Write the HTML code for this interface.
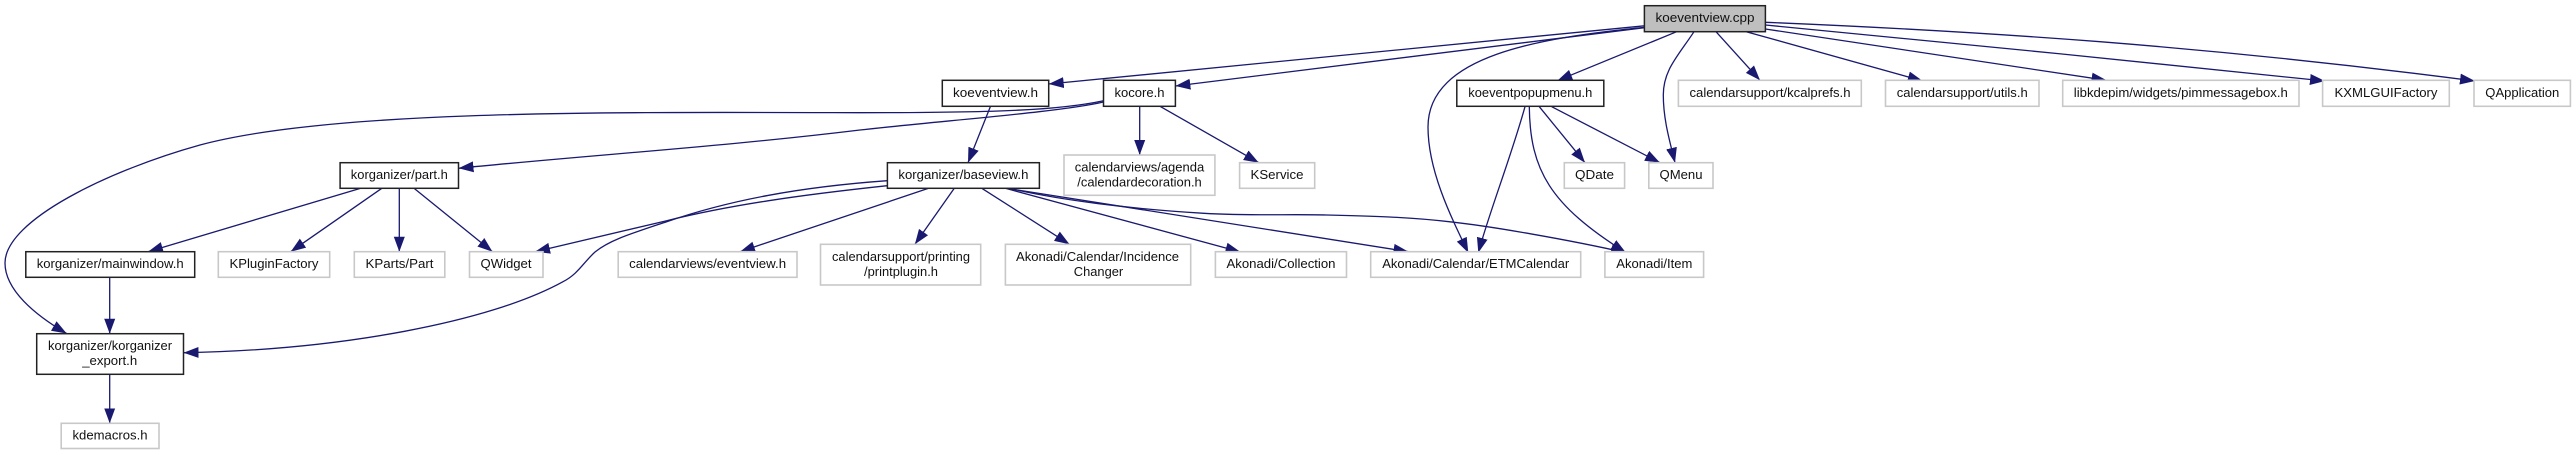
<!DOCTYPE html>
<html>
<head>
<meta charset="utf-8">
<title>koeventview.cpp include graph</title>
<style>
html,body{margin:0;padding:0;background:#fff;width:2576px;height:455px;overflow:hidden}
svg{display:block}
text{font-family:"Liberation Sans",sans-serif;font-size:13.3px;fill:#111;text-anchor:middle}
.b rect{fill:#fff;stroke:#222;stroke-width:1.5}
.g rect{fill:#fff;stroke:#c8c8c8;stroke-width:1.6}
.e path{fill:none;stroke:#191970;stroke-width:1.3;marker-end:url(#a)}
</style>
</head>
<body>
<svg xmlns="http://www.w3.org/2000/svg" width="2576" height="455" viewBox="0 0 2576 455">
<defs>
<marker id="a" markerUnits="userSpaceOnUse" markerWidth="16" markerHeight="13" refX="15" refY="6.5" orient="auto" viewBox="0 0 16 13">
<polygon points="0,1 15,6.5 0,12" fill="#191970"/>
</marker>
</defs>
<rect width="2576" height="455" fill="#fff"/>

<g class="e">
<path d="M1644.4 25.8L1048.7 84"/>
<path d="M1644.4 27.7L1175.4 86"/>
<path d="M1645 27.3C1540 38 1428 55 1428 127C1428 170 1450 215 1468.3 252.7"/>
<path d="M1676.7 31.7L1557.3 80.7"/>
<path d="M1694 31.7C1678 56 1663.3 70 1663.3 95C1663.3 120 1670 142 1675 162.7"/>
<path d="M1716 31.7L1760 80.3"/>
<path d="M1746.2 31.7L1922.8 81"/>
<path d="M1765.4 29L2106.5 80.3"/>
<path d="M1765.4 25C1950 42 2140 62 2325 81"/>
<path d="M1765.4 22.3C1880 27 2000 34 2100 41.7C2230 52 2360 66 2475 81"/>
<path d="M990.5 106.3L968 162.7"/>
<path d="M1103.5 100.7C1060 110 1000 112.7 860 112.7C600 112 330 110 200 145C110 170 5 220 5 263C5 290 35 315 66.7 333.5"/>
<path d="M1103.5 102C1060 112 950 120 860 130C720 147 590 155 458.5 168.3"/>
<path d="M1139.7 106.3L1139.7 155"/>
<path d="M1160 106.3L1258.8 162.7"/>
<path d="M360.7 188.3L148 251.7"/>
<path d="M381.8 188.3L290.7 251.7"/>
<path d="M399.3 188.3L399.3 251.7"/>
<path d="M414 188.3L492.5 251.7"/>
<path d="M109.7 277.3L109.7 333.7"/>
<path d="M109.7 374.3L109.7 423.3"/>
<path d="M887.3 185.7C800 195 730 205 666.7 220.7L535 251.7"/>
<path d="M887.3 180.7C800 187 730 200 666.7 221.7C630 234 610 240 595 252C583 263 578 274 563 281.7C490 322 340 350 183.5 352.7"/>
<path d="M928.6 188.3L740 251.7"/>
<path d="M954.3 188.3L914.9 244.3"/>
<path d="M981.8 188.3L1069.5 244.3"/>
<path d="M1005.4 188.3L1240.5 252"/>
<path d="M1007 188.3L1408.5 251.7"/>
<path d="M1009 188.3C1060 200 1130 209 1204 213.3C1250 216 1290 214 1326.5 215C1370 216 1410 217 1449 221.7C1490 226 1570 240 1626 252.7"/>
<path d="M1539.3 106.7L1585 162.7"/>
<path d="M1551.7 106.7L1660 162.7"/>
<path d="M1525 106.7C1510 160 1490 210 1478.3 252.7"/>
<path d="M1529.3 106.7C1530 170 1550 205 1626 252.7"/>
</g>

<g class="b">
<rect x="1644.4" y="5.7" width="121" height="26" style="fill:#bfbfbf"/>
<text x="1705" y="22" textLength="99" lengthAdjust="spacingAndGlyphs">koeventview.cpp</text>
<rect x="942.3" y="80.3" width="106.4" height="26"/>
<text x="995.5" y="96.8" textLength="85" lengthAdjust="spacingAndGlyphs">koeventview.h</text>
<rect x="1103.5" y="80.3" width="71.9" height="26"/>
<text x="1139.5" y="96.8" textLength="50" lengthAdjust="spacingAndGlyphs">kocore.h</text>
<rect x="1456.8" y="80.3" width="147" height="26"/>
<text x="1530.3" y="96.8" textLength="124" lengthAdjust="spacingAndGlyphs">koeventpopupmenu.h</text>
<rect x="340.1" y="162.7" width="118.4" height="25.6"/>
<text x="399.3" y="179" textLength="97" lengthAdjust="spacingAndGlyphs">korganizer/part.h</text>
<rect x="887.4" y="162.7" width="152" height="25.6"/>
<text x="963.4" y="179" textLength="130" lengthAdjust="spacingAndGlyphs">korganizer/baseview.h</text>
<rect x="25.8" y="251.7" width="168.9" height="25.6"/>
<text x="110.2" y="268" textLength="147" lengthAdjust="spacingAndGlyphs">korganizer/mainwindow.h</text>
<rect x="36.7" y="333.7" width="146.8" height="40.6"/>
<text x="110" y="350" textLength="124" lengthAdjust="spacingAndGlyphs">korganizer/korganizer</text>
<text x="109.7" y="365" textLength="55" lengthAdjust="spacingAndGlyphs">_export.h</text>
</g>

<g class="g">
<rect x="1678.4" y="80.3" width="182.9" height="26"/>
<text x="1770" y="96.8" textLength="161" lengthAdjust="spacingAndGlyphs">calendarsupport/kcalprefs.h</text>
<rect x="1885.5" y="80.3" width="153.5" height="26"/>
<text x="1962.2" y="96.8" textLength="131" lengthAdjust="spacingAndGlyphs">calendarsupport/utils.h</text>
<rect x="2062.7" y="80.3" width="236.3" height="26"/>
<text x="2180.8" y="96.8" textLength="214" lengthAdjust="spacingAndGlyphs">libkdepim/widgets/pimmessagebox.h</text>
<rect x="2322.6" y="80.3" width="126.7" height="26"/>
<text x="2386" y="96.8" textLength="103" lengthAdjust="spacingAndGlyphs">KXMLGUIFactory</text>
<rect x="2474" y="80.3" width="96.4" height="26"/>
<text x="2522.3" y="96.8" textLength="74" lengthAdjust="spacingAndGlyphs">QApplication</text>

<rect x="1064" y="155" width="150.9" height="40.3"/>
<text x="1139.5" y="171.5" textLength="129.5" lengthAdjust="spacingAndGlyphs">calendarviews/agenda</text>
<text x="1139.5" y="186.5" textLength="124.5" lengthAdjust="spacingAndGlyphs">/calendardecoration.h</text>
<rect x="1239.6" y="162.7" width="75.1" height="25.6"/>
<text x="1277" y="179" textLength="53" lengthAdjust="spacingAndGlyphs">KService</text>
<rect x="1564.3" y="162.7" width="60.3" height="25.6"/>
<text x="1594.5" y="179" textLength="39" lengthAdjust="spacingAndGlyphs">QDate</text>
<rect x="1648.8" y="162.7" width="64.2" height="25.6"/>
<text x="1681" y="179" textLength="43" lengthAdjust="spacingAndGlyphs">QMenu</text>

<rect x="218.3" y="251.7" width="111.4" height="25.6"/>
<text x="274" y="268" textLength="89" lengthAdjust="spacingAndGlyphs">KPluginFactory</text>
<rect x="354.3" y="251.7" width="90.5" height="25.6"/>
<text x="399.5" y="268" textLength="68" lengthAdjust="spacingAndGlyphs">KParts/Part</text>
<rect x="469.5" y="251.7" width="73.5" height="25.6"/>
<text x="506" y="268" textLength="51" lengthAdjust="spacingAndGlyphs">QWidget</text>
<rect x="618.2" y="251.7" width="178.8" height="25.6"/>
<text x="707.6" y="268" textLength="157" lengthAdjust="spacingAndGlyphs">calendarviews/eventview.h</text>
<rect x="820.5" y="244.3" width="160.2" height="40.7"/>
<text x="901" y="261" textLength="138" lengthAdjust="spacingAndGlyphs">calendarsupport/printing</text>
<text x="901" y="276" textLength="74" lengthAdjust="spacingAndGlyphs">/printplugin.h</text>
<rect x="1005.4" y="244.3" width="185.3" height="40.7"/>
<text x="1097.5" y="261" textLength="163" lengthAdjust="spacingAndGlyphs">Akonadi/Calendar/Incidence</text>
<text x="1098.5" y="276" textLength="49.4" lengthAdjust="spacingAndGlyphs">Changer</text>
<rect x="1215.4" y="251.7" width="131.1" height="25.6"/>
<text x="1281" y="268" textLength="109" lengthAdjust="spacingAndGlyphs">Akonadi/Collection</text>
<rect x="1370.7" y="251.7" width="210" height="25.6"/>
<text x="1475.7" y="268" textLength="187" lengthAdjust="spacingAndGlyphs">Akonadi/Calendar/ETMCalendar</text>
<rect x="1604.9" y="251.7" width="98.7" height="25.6"/>
<text x="1654.3" y="268" textLength="76" lengthAdjust="spacingAndGlyphs">Akonadi/Item</text>
<rect x="61.2" y="423.3" width="97.8" height="25.2"/>
<text x="110" y="439.5" textLength="75" lengthAdjust="spacingAndGlyphs">kdemacros.h</text>
</g>
</svg>
</body>
</html>
